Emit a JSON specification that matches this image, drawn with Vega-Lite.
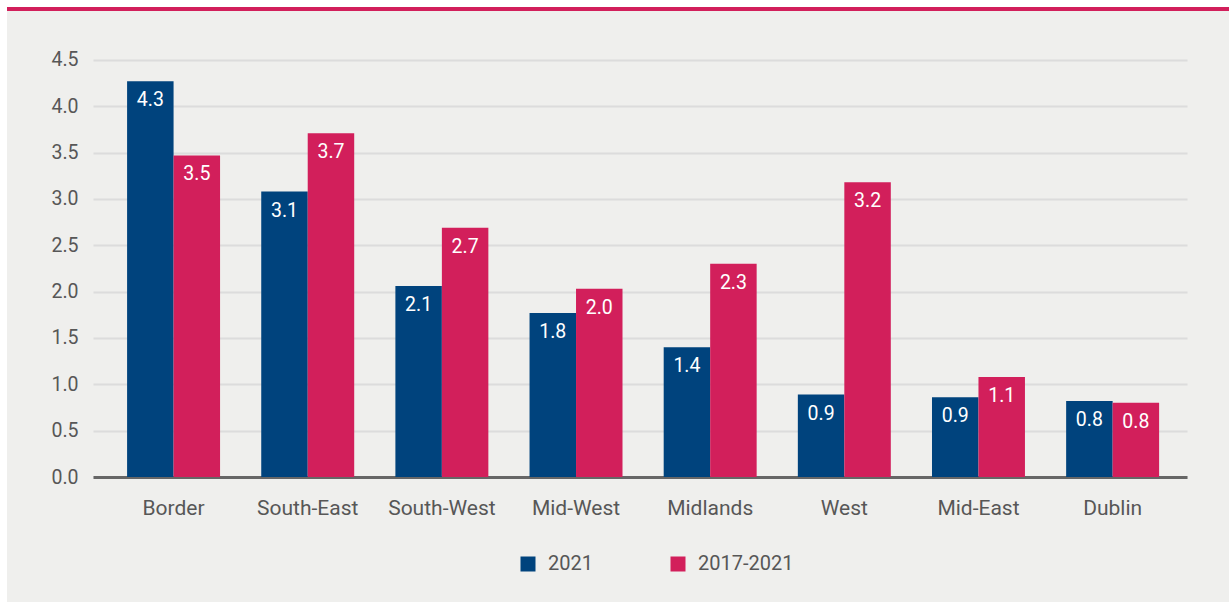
{
  "$schema": "https://vega.github.io/schema/vega-lite/v6.json",
  "background": "#ffffff",
  "autosize": {"type": "none"},
  "padding": {"left": 7, "top": 9, "right": 0, "bottom": 1},
  "width": 1222,
  "height": 593,
  "config": {
    "view": {"stroke": null, "fill": "#efefed"},
    "font": "Roboto",
    "text": {"font": "Roboto"},
    "axis": {"labelFont": "Roboto", "labelColor": "#575757", "labelFontWeight": "normal"},
    "legend": {"labelFont": "Roboto"}
  },
  "data": {
    "values": [
      {"region": "Border", "series": "2021", "value": 4.27},
      {"region": "Border", "series": "2017-2021", "value": 3.47},
      {"region": "South-East", "series": "2021", "value": 3.08},
      {"region": "South-East", "series": "2017-2021", "value": 3.71},
      {"region": "South-West", "series": "2021", "value": 2.06},
      {"region": "South-West", "series": "2017-2021", "value": 2.69},
      {"region": "Mid-West", "series": "2021", "value": 1.77},
      {"region": "Mid-West", "series": "2017-2021", "value": 2.03},
      {"region": "Midlands", "series": "2021", "value": 1.4},
      {"region": "Midlands", "series": "2017-2021", "value": 2.3},
      {"region": "West", "series": "2021", "value": 0.89},
      {"region": "West", "series": "2017-2021", "value": 3.18},
      {"region": "Mid-East", "series": "2021", "value": 0.86},
      {"region": "Mid-East", "series": "2017-2021", "value": 1.08},
      {"region": "Dublin", "series": "2021", "value": 0.82},
      {"region": "Dublin", "series": "2017-2021", "value": 0.8}
    ]
  },
  "layer": [
    {
      "mark": {"type": "bar"},
      "encoding": {
        "x": {
          "field": "region",
          "type": "nominal",
          "sort": null,
          "scale": {"range": [86, 1180], "paddingInner": 0.307, "paddingOuter": 0.231, "align": 0.55},
          "axis": {
            "title": null,
            "labelAngle": 0,
            "ticks": false,
            "offset": -125,
            "domainColor": "#666666",
            "domainWidth": 3,
            "labelPadding": 20,
            "grid": false,
            "labelFontSize": 21,
            "labelLetterSpacing": 2.6
          }
        },
        "xOffset": {"field": "series", "type": "nominal", "sort": ["2021", "2017-2021"]},
        "y": {
          "field": "value",
          "type": "quantitative",
          "scale": {"domain": [0, 5.05], "range": [468, 0], "nice": false, "zero": true},
          "axis": {
            "title": null,
            "values": [0, 0.5, 1, 1.5, 2, 2.5, 3, 3.5, 4, 4.5],
            "format": ".1f",
            "domain": false,
            "ticks": false,
            "grid": true,
            "gridColor": "#dcdcdc",
            "gridWidth": 2,
            "offset": -86,
            "labelPadding": 15,
            "labelFontSize": 19.5,
            "labelLetterSpacing": 0.5
          }
        },
        "color": {
          "field": "series",
          "type": "nominal",
          "sort": ["2021", "2017-2021"],
          "scale": {"domain": ["2021", "2017-2021"], "range": ["#00437d", "#d21f5b"]},
          "legend": {
            "orient": "none",
            "legendX": 511,
            "legendY": 545,
            "direction": "horizontal",
            "title": null,
            "symbolType": "square",
            "symbolSize": 225,
            "symbolStrokeWidth": 0,
            "symbolOpacity": 1,
            "labelFontSize": 20,
            "labelColor": "#575757",
            "labelOffset": 10,
            "columnPadding": 75,
            "padding": 0,
            "labelLetterSpacing": 0.2
          }
        }
      }
    },
    {
      "mark": {"type": "text", "baseline": "middle", "dy": 19, "color": "#ffffff", "fontSize": 19.5, "letterSpacing": 0.8},
      "encoding": {
        "x": {"field": "region", "type": "nominal", "sort": null},
        "xOffset": {"field": "series", "type": "nominal", "sort": ["2021", "2017-2021"]},
        "y": {"field": "value", "type": "quantitative"},
        "text": {"field": "value", "type": "quantitative", "format": ".1f"}
      }
    },
    {
      "mark": {"type": "rule", "color": "#d21f5b", "strokeWidth": 4},
      "encoding": {"y": {"datum": 5.05}}
    }
  ]
}
